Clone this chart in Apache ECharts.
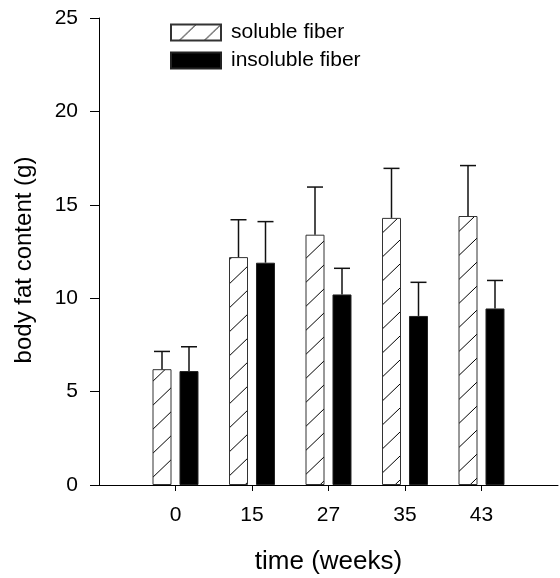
<!DOCTYPE html>
<html>
<head>
<meta charset="utf-8">
<script src="https://cdn.jsdelivr.net/npm/echarts@6/dist/echarts.min.js"></script>
<style>
    html, body {margin: 0; padding: 0; background: #fff;}
    #main {width: 560px; height: 578px;}
</style>
</head>
<body>
<div id="main"></div>
<script>
    // values
    const weeks = ['0', '15', '27', '35', '43'];
    const soluble = [6.2, 12.2, 13.4, 14.3, 14.4];
    const insoluble = [6.1, 11.9, 10.2, 9.05, 9.45];
    const solubleErr = [0.95, 2.0, 2.55, 2.65, 2.7];
    const insolubleErr = [1.3, 2.2, 1.4, 1.8, 1.5];
    const yTicks = {min: 0, max: 25, interval: 5};

    const font = 'Liberation Sans, Arial, sans-serif';

    // hatch "/" pattern for the soluble bars
    const hatch = document.createElement('canvas');
    hatch.width = 25;
    hatch.height = 24;
    const hctx = hatch.getContext('2d');
    hctx.fillStyle = '#fff';
    hctx.fillRect(0, 0, 25, 24);
    hctx.strokeStyle = '#000';
    hctx.lineWidth = 1;
    hctx.beginPath();
    hctx.moveTo(-2, 24 + 2 * 24 / 25);
    hctx.lineTo(27, -2 * 24 / 25);
    hctx.stroke();

    // pad one empty slot at each end so the ticks sit where the figure has them
    const cats = [''].concat(weeks, ['']);
    const pad = arr => [null].concat(arr, [null]);

    const errData = (vals, errs, side) => vals.map((v, i) => [i + 1, v, v + errs[i], side]);

    const renderErr = (params, api) => {
        const side = api.value(3);
        const base = api.coord([api.value(0), api.value(1)]);
        const top = api.coord([api.value(0), api.value(2)]);
        const x = base[0] + side * 13.5;
        const style = {stroke: '#111', lineWidth: 1.5};
        return {
            type: 'group',
            children: [
                {type: 'line', shape: {x1: x, y1: base[1], x2: x, y2: top[1]}, style: style},
                {type: 'line', shape: {x1: x - 8, y1: top[1], x2: x + 8, y2: top[1]}, style: style}
            ]
        };
    };

    const myChart = echarts.init(document.getElementById('main'));
    myChart.setOption({
        animation: false,
        backgroundColor: '#fff',
        textStyle: {fontFamily: font, color: '#000'},
        grid: {left: 99, right: 2, top: 18, bottom: 93, outerBoundsMode: 'none'},
        legend: {
            data: ['soluble fiber', 'insoluble fiber'],
            orient: 'vertical',
            left: 165,
            top: 17,
            icon: 'rect',
            itemWidth: 50,
            itemHeight: 16,
            itemGap: 7,
            textStyle: {fontSize: 21, fontFamily: font, color: '#000', padding: [0, 0, 0, 5]}
        },
        xAxis: {
            type: 'category',
            data: cats,
            boundaryGap: false,
            name: 'time (weeks)',
            nameLocation: 'middle',
            nameGap: 64,
            nameTextStyle: {fontSize: 26, fontFamily: font, color: '#000'},
            axisLine: {lineStyle: {color: '#000', width: 1}},
            axisTick: {
                length: 6,
                lineStyle: {color: '#000'},
                interval: (idx) => idx >= 1 && idx <= weeks.length
            },
            axisLabel: {fontSize: 21, color: '#000', margin: 20, interval: 0}
        },
        yAxis: {
            type: 'value',
            min: yTicks.min,
            max: yTicks.max,
            interval: yTicks.interval,
            name: 'body fat content (g)',
            nameLocation: 'middle',
            nameGap: 63,
            nameTextStyle: {fontSize: 24, fontFamily: font, color: '#000', padding: [0, 17, 0, 0]},
            axisLine: {show: true, lineStyle: {color: '#000', width: 1}},
            axisTick: {show: true, length: 9, lineStyle: {color: '#000'}},
            axisLabel: {fontSize: 21, color: '#000', margin: 21},
            splitLine: {show: false}
        },
        series: [
            {
                name: 'soluble fiber',
                type: 'bar',
                barWidth: 19,
                barGap: '42%',
                data: pad(soluble),
                itemStyle: {
                    color: {image: hatch, repeat: 'repeat'},
                    borderColor: '#333',
                    borderWidth: 1
                }
            },
            {
                name: 'insoluble fiber',
                type: 'bar',
                barWidth: 19,
                data: pad(insoluble),
                itemStyle: {color: '#000', borderColor: '#222', borderWidth: 1}
            },
            {
                type: 'custom',
                renderItem: renderErr,
                data: errData(soluble, solubleErr, -1),
                z: 3
            },
            {
                type: 'custom',
                renderItem: renderErr,
                data: errData(insoluble, insolubleErr, 1),
                z: 3
            }
        ]
    });
</script>
</body>
</html>
